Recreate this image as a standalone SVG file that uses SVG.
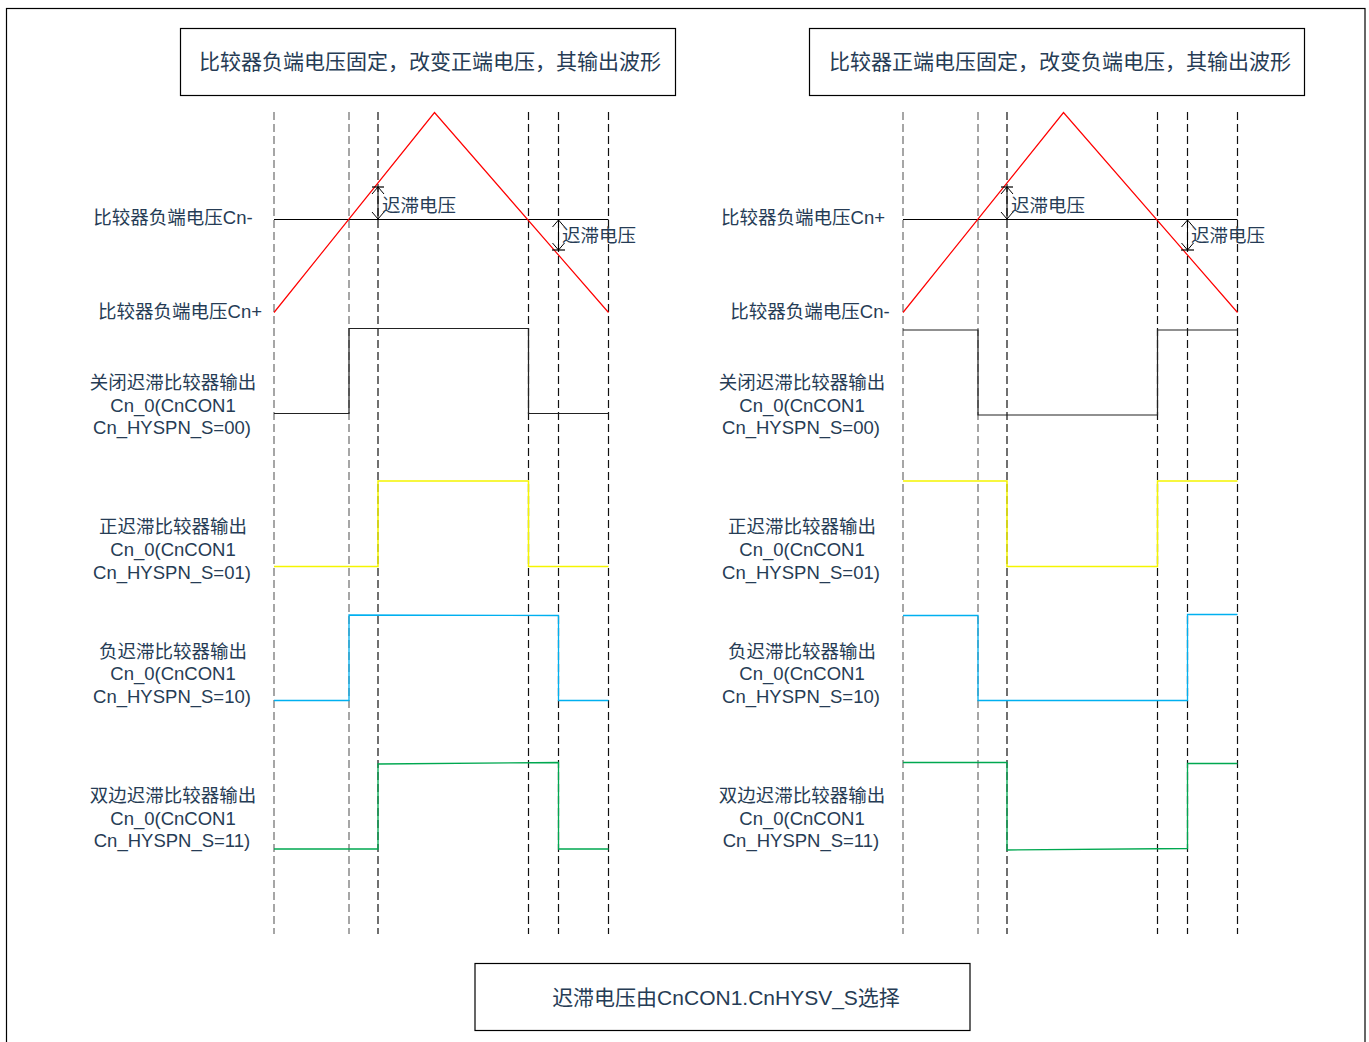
<svg xmlns="http://www.w3.org/2000/svg" width="1369" height="1042" viewBox="0 0 1369 1042">
<style>
text{font-family:"Liberation Sans","Noto Sans CJK SC",sans-serif;font-size:18.5px;fill:#263c55}
.lbl{text-anchor:middle}
.big{font-size:21px}
.box{fill:#fff;stroke:#000;stroke-width:1.2}
.dg{stroke:#777;stroke-width:1.3;stroke-dasharray:8 4;fill:none}
.dk{stroke:#111;stroke-width:1.2;stroke-dasharray:8 4;fill:none}
.red{stroke:#ff0000;stroke-width:1.2;fill:none}
.blk{stroke:#222;stroke-width:1.2;fill:none}
.yel{stroke:#f5f500;stroke-width:1.5;fill:none}
.blu{stroke:#00b0f0;stroke-width:1.3;fill:none}
.grn{stroke:#00a850;stroke-width:1.3;fill:none}
.ref{stroke:#000;stroke-width:1.2}
.hy{stroke:#000;stroke-width:1;fill:none;marker-start:url(#ah);marker-end:url(#ah)}
</style>
<defs>
<marker id="ah" viewBox="-8 -7 9 14" markerWidth="9" markerHeight="14" refX="0" refY="0" orient="auto-start-reverse" markerUnits="userSpaceOnUse">
<path d="M-7,-6 L0,0 L-7,6" fill="none" stroke="#000" stroke-width="1"/>
</marker>
</defs>
<rect x="0" y="0" width="1369" height="1042" fill="#fff"/>
<rect x="6.5" y="8.5" width="1358.5" height="1045" fill="none" stroke="#000" stroke-width="1.2"/>

<g id="title-left"><rect class="box" x="180.5" y="28.5" width="495" height="67"/><text x="430" y="68.5" class="lbl big">比较器负端电压固定，改变正端电压，其输出波形</text></g>
<g id="title-right"><rect class="box" x="809.5" y="28.5" width="495" height="67"/><text x="1060" y="68.5" class="lbl big">比较器正端电压固定，改变负端电压，其输出波形</text></g>
<g id="note"><rect class="box" x="475" y="963.5" width="495" height="67"/><text x="726" y="1005" class="lbl big">迟滞电压由CnCON1.CnHYSV_S选择</text></g>

<g id="labels-left">
<text x="173" y="224" class="lbl">比较器负端电压Cn-</text>
<text x="180" y="318" class="lbl">比较器负端电压Cn+</text>
<text x="173" y="389" class="lbl">关闭迟滞比较器输出</text>
<text x="173" y="412" class="lbl">Cn_0(CnCON1</text>
<text x="172" y="434" class="lbl">Cn_HYSPN_S=00)</text>
<text x="173" y="533" class="lbl">正迟滞比较器输出</text>
<text x="173" y="556" class="lbl">Cn_0(CnCON1</text>
<text x="172" y="579" class="lbl">Cn_HYSPN_S=01)</text>
<text x="173" y="658" class="lbl">负迟滞比较器输出</text>
<text x="173" y="680" class="lbl">Cn_0(CnCON1</text>
<text x="172" y="703" class="lbl">Cn_HYSPN_S=10)</text>
<text x="173" y="802" class="lbl">双边迟滞比较器输出</text>
<text x="173" y="825" class="lbl">Cn_0(CnCON1</text>
<text x="172" y="847" class="lbl">Cn_HYSPN_S=11)</text>
</g>
<g id="labels-right">
<text x="803" y="224" class="lbl">比较器负端电压Cn+</text>
<text x="810" y="318" class="lbl">比较器负端电压Cn-</text>
<text x="802" y="389" class="lbl">关闭迟滞比较器输出</text>
<text x="802" y="412" class="lbl">Cn_0(CnCON1</text>
<text x="801" y="434" class="lbl">Cn_HYSPN_S=00)</text>
<text x="802" y="533" class="lbl">正迟滞比较器输出</text>
<text x="802" y="556" class="lbl">Cn_0(CnCON1</text>
<text x="801" y="579" class="lbl">Cn_HYSPN_S=01)</text>
<text x="802" y="658" class="lbl">负迟滞比较器输出</text>
<text x="802" y="680" class="lbl">Cn_0(CnCON1</text>
<text x="801" y="703" class="lbl">Cn_HYSPN_S=10)</text>
<text x="802" y="802" class="lbl">双边迟滞比较器输出</text>
<text x="802" y="825" class="lbl">Cn_0(CnCON1</text>
<text x="801" y="847" class="lbl">Cn_HYSPN_S=11)</text>
</g>

<g id="connectors">
<g id="grid-left">
<line class="dg" x1="274" y1="112" x2="274" y2="934"/>
<line class="dg" x1="349" y1="112" x2="349" y2="934"/>
<line class="dk" x1="378" y1="112" x2="378" y2="934"/>
<line class="dk" x1="528.5" y1="112" x2="528.5" y2="934"/>
<line class="dk" x1="558.5" y1="112" x2="558.5" y2="934"/>
<line class="dk" x1="608.5" y1="112" x2="608.5" y2="934"/>
</g>
<g id="grid-right">
<line class="dg" x1="903" y1="112" x2="903" y2="934"/>
<line class="dg" x1="978" y1="112" x2="978" y2="934"/>
<line class="dk" x1="1007" y1="112" x2="1007" y2="934"/>
<line class="dk" x1="1157.5" y1="112" x2="1157.5" y2="934"/>
<line class="dk" x1="1187.5" y1="112" x2="1187.5" y2="934"/>
<line class="dk" x1="1237.5" y1="112" x2="1237.5" y2="934"/>
</g>

<g id="wave-left">
<line class="ref" x1="274" y1="219.5" x2="608.5" y2="219.5"/>
<polyline class="red" points="274,312.5 434.5,112.5 608.5,312.5"/>
<line class="hy" x1="378" y1="187" x2="378" y2="219"/>
<line class="ref" x1="372" y1="187" x2="384" y2="187" stroke-width="0.8"/>
<line class="hy" x1="558.5" y1="220" x2="558.5" y2="250"/>
<line class="ref" x1="552" y1="250" x2="565" y2="250" stroke-width="0.8"/>
<text x="382" y="212">迟滞电压</text>
<text x="562" y="242">迟滞电压</text>
<polyline class="blk" points="274,413.5 349,413.5 349,328.5 528.5,328.5 528.5,413.5 608.5,413.5"/>
<polyline class="yel" points="274,566.5 378,566.5 378,481 528.5,481 528.5,566.5 608.5,566.5"/>
<polyline class="blu" points="274,700.5 349,700.5 349,615 558.5,615.5 558.5,700.5 608.5,700.5"/>
<polyline class="grn" points="274,849 378,849 378,764 558.5,762.5 558.5,849 608.5,849"/>
</g>

<g id="wave-right">
<line class="ref" x1="903" y1="219.5" x2="1237.5" y2="219.5"/>
<polyline class="red" points="903,312.5 1063.5,112.5 1237.5,312.5"/>
<line class="hy" x1="1007" y1="187" x2="1007" y2="219"/>
<line class="ref" x1="1001" y1="187" x2="1013" y2="187" stroke-width="0.8"/>
<line class="hy" x1="1187.5" y1="220" x2="1187.5" y2="250"/>
<line class="ref" x1="1181" y1="250" x2="1194" y2="250" stroke-width="0.8"/>
<text x="1011" y="212">迟滞电压</text>
<text x="1191" y="242">迟滞电压</text>
<polyline class="blk" points="903,330 978,330 978,415 1157.5,415 1157.5,330 1237.5,330"/>
<polyline class="yel" points="903,481 1007,481 1007,566.5 1157.5,566.5 1157.5,481 1237.5,481"/>
<polyline class="blu" points="903,615.5 978,615.5 978,700.5 1187.5,700.5 1187.5,614.5 1237.5,614.5"/>
<polyline class="grn" points="903,762.5 1007,762.5 1007,850 1187.5,848.5 1187.5,763.5 1237.5,763.5"/>
</g>
</g>
</svg>
